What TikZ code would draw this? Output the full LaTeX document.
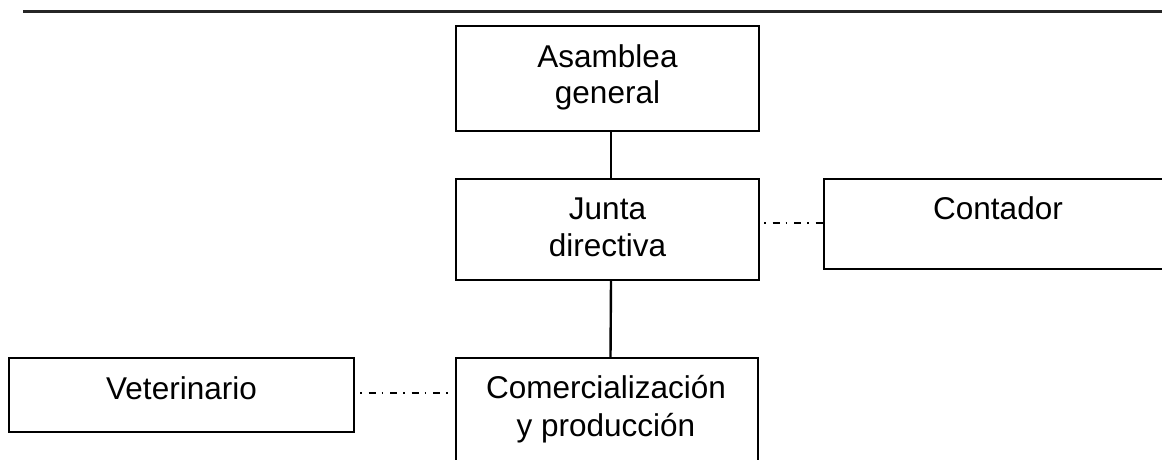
\documentclass[tikz,border=0pt]{standalone}
\usepackage{fontspec}
\setmainfont{Liberation Sans}
\usetikzlibrary{calc}
\tikzset{
  box/.style={draw=black, line width=2.4pt, rectangle, inner sep=0pt},
  lbl/.style={anchor=base, align=center, inner sep=0pt, font=\fontsize{31.5}{36}\selectfont},
  link/.style={draw=black, line width=2.4pt},
  dd/.style={draw=black, line width=1.5pt, dash pattern=on 1.5pt off 7pt on 7pt off 6pt},
}
\begin{document}
\begin{tikzpicture}[x=1pt,y=-1pt]
\useasboundingbox (0,0) rectangle (1162,459);
\clip (0,0) rectangle (1162,459);
% top rule
\coordinate (r1) at (23,11);
\coordinate (r2) at (1170,11);
\draw[line width=3pt, black!85] (r1) -- (r2);
% boxes
\node[box, minimum width=303pt, minimum height=105pt] (asm) at (607.5,78.5) {};
\node[box, minimum width=303pt, minimum height=101pt] (junta) at (607.5,229.5) {};
\node[box, minimum width=342pt, minimum height=90pt] (cont) at (995,224) {};
\node[box, minimum width=302pt, minimum height=122pt] (com) at (607,419) {};
\node[box, minimum width=345pt, minimum height=74pt] (vet) at (181.5,395) {};
% labels (base anchor = baseline of the last line)
\node[lbl] (asmT) at (607.5,103) {Asamblea\\general};
\node[lbl, font=\fontsize{31.5}{37}\selectfont] (juntaT) at (607.5,256) {Junta\\directiva};
\node[lbl] (contT) at (998,219) {Contador};
\node[lbl, font=\fontsize{31.5}{38}\selectfont] (comT) at (606,436) {Comercialización\\y producción};
\node[lbl] (vetT) at (181.5,399) {Veterinario};
% connectors
\draw[link] ([xshift=3.5pt]asm.south) -- ([xshift=3.5pt]junta.north);
\draw[link] ([xshift=3.5pt]junta.south) -- ([xshift=3.5pt]com.north);
\coordinate (y1) at (0,223);
\coordinate (y2) at (0,393);
\draw[dd] ($(junta.east|-y1)+(4,0)$) -- (cont.west|-y1);
\draw[dd] ($(vet.east|-y2)+(5,0)$) -- ($(com.west|-y2)+(-6,0)$);
\end{tikzpicture}
\end{document}
